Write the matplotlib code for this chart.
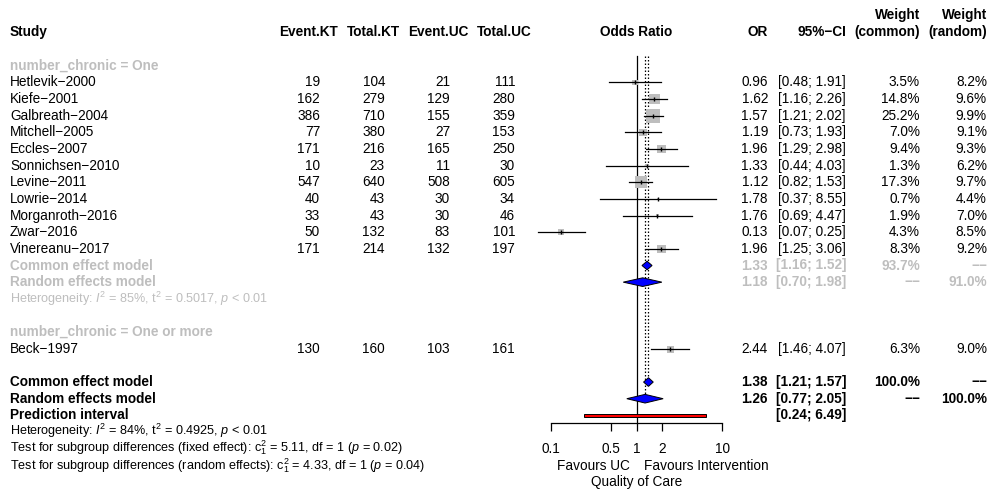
import numpy as np
import matplotlib
matplotlib.use('Agg')
import matplotlib.pyplot as plt
from matplotlib.patches import Polygon, Rectangle
from matplotlib.ticker import NullLocator

plt.rcParams['font.family'] = ['Liberation Sans', 'DejaVu Sans']
plt.rcParams['mathtext.fontset'] = 'custom'
plt.rcParams['mathtext.rm'] = 'Liberation Sans'
plt.rcParams['mathtext.it'] = 'Liberation Sans:italic'
plt.rcParams['mathtext.bf'] = 'Liberation Sans:bold'

# ---------------- data ----------------
studies_g1 = ["Hetlevik\u22122000", "Kiefe\u22122001", "Galbreath\u22122004", "Mitchell\u22122005",
              "Eccles\u22122007", "Sonnichsen\u22122010", "Levine\u22122011", "Lowrie\u22122014",
              "Morganroth\u22122016", "Zwar\u22122016", "Vinereanu\u22122017"]
event_kt_g1 = [19, 162, 386, 77, 171, 10, 547, 40, 33, 50, 171]
total_kt_g1 = [104, 279, 710, 380, 216, 23, 640, 43, 43, 132, 214]
event_uc_g1 = [21, 129, 155, 27, 165, 11, 508, 30, 30, 83, 132]
total_uc_g1 = [111, 280, 359, 153, 250, 30, 605, 34, 46, 101, 197]
or_g1 = [0.96, 1.62, 1.57, 1.19, 1.96, 1.33, 1.12, 1.78, 1.76, 0.13, 1.96]
lo_g1 = [0.48, 1.16, 1.21, 0.73, 1.29, 0.44, 0.82, 0.37, 0.69, 0.07, 1.25]
hi_g1 = [1.91, 2.26, 2.02, 1.93, 2.98, 4.03, 1.53, 8.55, 4.47, 0.25, 3.06]
wc_g1 = [3.5, 14.8, 25.2, 7.0, 9.4, 1.3, 17.3, 0.7, 1.9, 4.3, 8.3]
wr_g1 = [8.2, 9.6, 9.9, 9.1, 9.3, 6.2, 9.7, 4.4, 7.0, 8.5, 9.2]

studies_g2 = ["Beck\u22121997"]
event_kt_g2 = [130]
total_kt_g2 = [160]
event_uc_g2 = [103]
total_uc_g2 = [161]
or_g2 = [2.44]
lo_g2 = [1.46]
hi_g2 = [4.07]
wc_g2 = [6.3]
wr_g2 = [9.0]

# subgroup 1 summaries: (OR, lo, hi, weight)
g1_common = (1.33, 1.16, 1.52, 93.7)
g1_random = (1.18, 0.70, 1.98, 91.0)
# overall
all_common = (1.38, 1.21, 1.57, 100.0)
all_random = (1.26, 0.77, 2.05, 100.0)
pred_int = (0.24, 6.49)

het_g1 = "Heterogeneity: $\\mathit{I}^2$ = 85%, $\\mathrm{t}^2$ = 0.5017, $\\mathit{p}$ < 0.01"
het_all = "Heterogeneity: $\\mathit{I}^2$ = 84%, $\\mathrm{t}^2$ = 0.4925, $\\mathit{p}$ < 0.01"
test_fixed = "Test for subgroup differences (fixed effect): $\\mathrm{c}_1^2$ = 5.11, df = 1 ($\\mathit{p}$ = 0.02)"
test_random = "Test for subgroup differences (random effects): $\\mathrm{c}_1^2$ = 4.33, df = 1 ($\\mathit{p}$ = 0.04)"

ticks = [0.1, 0.5, 1, 2, 10]
tick_labels = ["0.1", "0.5", "1", "2", "10"]

# ---------------- layout ----------------
W, H = 989, 491
Y0, DY = 65.7, 16.65          # pixel y of row 0, row spacing
def row_of(ypix):
    return (ypix - Y0) / DY
YTOP, YBOT = row_of(0), row_of(H)

X1, DEC = 636.5, 85.5          # pixel of OR=1, pixels per decade
FX_L, FX_R = 520, 770

FS = 9.85
FS_SMALL = 9.1
GREY = '#BEBEBE'
SQ = '#BEBEBE'

fig = plt.figure(figsize=(W / 100, H / 100), dpi=100)
tax = fig.add_axes([0, 0, 1, 1])
tax.set_xlim(0, W)
tax.set_ylim(YBOT, YTOP)
tax.axis('off')

fax = fig.add_axes([FX_L / W, 0, (FX_R - FX_L) / W, 1])
fax.set_xscale('log')
fax.set_xlim(10 ** ((FX_L - X1) / DEC), 10 ** ((FX_R - X1) / DEC))
fax.set_ylim(YBOT, YTOP)
fax.patch.set_visible(False)

# column positions (pixels)
X_STUDY = 10
COLS = {'ekt': 320, 'tkt': 385, 'euc': 450, 'tuc': 515}
HDR_C = {'ekt': 308, 'tkt': 373, 'euc': 438, 'tuc': 504}
X_OR, X_CI, X_WC, X_WR = 768, 846, 920, 987

def txt(x, r, s, ha='left', color='black', bold=False, size=FS):
    tax.text(x, r, s, ha=ha, va='center', color=color, fontsize=size,
             fontweight='bold' if bold else 'normal')

# headers
txt(X_STUDY, -2, "Study", bold=True)
txt(HDR_C['ekt'], -2, "Event.KT", ha='center', bold=True)
txt(HDR_C['tkt'], -2, "Total.KT", ha='center', bold=True)
txt(HDR_C['euc'], -2, "Event.UC", ha='center', bold=True)
txt(HDR_C['tuc'], -2, "Total.UC", ha='center', bold=True)
txt(X1, -2, "Odds Ratio", ha='center', bold=True)
txt(X_OR, -2, "OR", ha='right', bold=True)
txt(X_CI, -2, "95%\u2212CI", ha='right', bold=True)
txt(X_WC, -3.05, "Weight", ha='right', bold=True)
txt(X_WC, -2, "(common)", ha='right', bold=True)
txt(X_WR, -3.05, "Weight", ha='right', bold=True)
txt(X_WR, -2, "(random)", ha='right', bold=True)

def study_rows(start, names, ekt, tkt, euc, tuc, ors, los, his, wcs, wrs):
    rows = []
    for i, name in enumerate(names):
        r = start + i
        rows.append(r)
        txt(X_STUDY, r, name)
        txt(COLS['ekt'], r, str(ekt[i]), ha='right')
        txt(COLS['tkt'], r, str(tkt[i]), ha='right')
        txt(COLS['euc'], r, str(euc[i]), ha='right')
        txt(COLS['tuc'], r, str(tuc[i]), ha='right')
        txt(X_OR, r, f"{ors[i]:.2f}", ha='right')
        txt(X_CI, r, f"[{los[i]:.2f}; {his[i]:.2f}]", ha='right')
        txt(X_WC, r, f"{wcs[i]:.1f}%", ha='right')
        txt(X_WR, r, f"{wrs[i]:.1f}%", ha='right')
    rows = np.array(rows)
    ors, los, his, wcs = map(np.array, (ors, los, his, wcs))
    side_px = 14.0 * np.sqrt(wcs / 25.2)
    fax.scatter(ors, rows, s=(side_px * 0.72) ** 2, marker='s', color=SQ,
                linewidths=0, zorder=2)
    for o, l, h, r in zip(ors, los, his, rows):
        fax.plot([l, h], [r, r], color='black', lw=0.9, zorder=3)
    fax.plot(ors, rows, linestyle='none', marker='|', ms=3.2, mew=1.0,
             color='black', zorder=4)

def diamond(r, est, lo, hi, half=0.26):
    fax.add_patch(Polygon([(lo, r), (est, r - half), (hi, r), (est, r + half)],
                          closed=True, facecolor='#0000FF', edgecolor='black',
                          lw=0.7, zorder=5))

def summary_row(r, label, vals, wc_txt, wr_txt, color):
    est, lo, hi, _ = vals
    txt(X_STUDY, r, label, color=color, bold=True)
    txt(X_OR, r, f"{est:.2f}", ha='right', color=color, bold=True)
    txt(X_CI, r, f"[{lo:.2f}; {hi:.2f}]", ha='right', color=color, bold=True)
    txt(X_WC, r, wc_txt, ha='right', color=color, bold=True)
    txt(X_WR, r, wr_txt, ha='right', color=color, bold=True)
    diamond(r, est, lo, hi)

# subgroup 1
txt(X_STUDY, 0, "number_chronic = One", color=GREY, bold=True)
study_rows(1, studies_g1, event_kt_g1, total_kt_g1, event_uc_g1, total_uc_g1,
           or_g1, lo_g1, hi_g1, wc_g1, wr_g1)
summary_row(12, "Common effect model", g1_common, f"{g1_common[3]:.1f}%", "\u2212\u2212", GREY)
summary_row(13, "Random effects model", g1_random, "\u2212\u2212", f"{g1_random[3]:.1f}%", GREY)
txt(X_STUDY, 14, het_g1, color=GREY, size=FS_SMALL)

# subgroup 2
txt(X_STUDY, 16, "number_chronic = One or more", color=GREY, bold=True)
study_rows(17, studies_g2, event_kt_g2, total_kt_g2, event_uc_g2, total_uc_g2,
           or_g2, lo_g2, hi_g2, wc_g2, wr_g2)

# overall
summary_row(19, "Common effect model", all_common, f"{all_common[3]:.1f}%", "\u2212\u2212", 'black')
summary_row(20, "Random effects model", all_random, "\u2212\u2212", f"{all_random[3]:.1f}%", 'black')
txt(X_STUDY, 21, "Prediction interval", bold=True)
txt(X_CI, 21, f"[{pred_int[0]:.2f}; {pred_int[1]:.2f}]", ha='right', bold=True)
fax.add_patch(Rectangle((pred_int[0], 21 - 0.11), pred_int[1] - pred_int[0], 0.22,
                        facecolor='#FF0000', edgecolor='black', lw=0.7, zorder=5))
txt(X_STUDY, 21.95, het_all, size=FS_SMALL)
txt(X_STUDY, 22.95, test_fixed, size=FS_SMALL)
txt(X_STUDY, 24.0, test_random, size=FS_SMALL)

# reference lines
AX_ROW = row_of(423.3)
TOP_ROW = row_of(56)
fax.plot([1, 1], [TOP_ROW, AX_ROW], color='black', lw=0.9, zorder=1)
fax.plot([all_common[0]] * 2, [TOP_ROW, 19 - 0.26], color='black', lw=0.9,
         ls=(0, (1.2, 1.6)), zorder=1)
fax.plot([all_random[0]] * 2, [TOP_ROW, 20 - 0.26], color='black', lw=0.9,
         ls=(0, (1.2, 1.6)), zorder=1)

# x axis
for s in ['top', 'left', 'right']:
    fax.spines[s].set_visible(False)
fax.spines['bottom'].set_position(('data', AX_ROW))
fax.spines['bottom'].set_bounds(ticks[0], ticks[-1])
fax.spines['bottom'].set_linewidth(0.9)
fax.yaxis.set_visible(False)
fax.set_xticks(ticks)
fax.set_xticklabels(tick_labels)
fax.xaxis.set_minor_locator(NullLocator())
fax.tick_params(axis='x', direction='out', length=5.8, width=0.9, pad=7.5,
                labelsize=FS)

txt(X1 - 7, row_of(466), "Favours UC", ha='right')
txt(X1 + 7.5, row_of(466), "Favours Intervention", ha='left')
txt(X1, row_of(482), "Quality of Care", ha='center')

fig.savefig('out.png', dpi=100)
